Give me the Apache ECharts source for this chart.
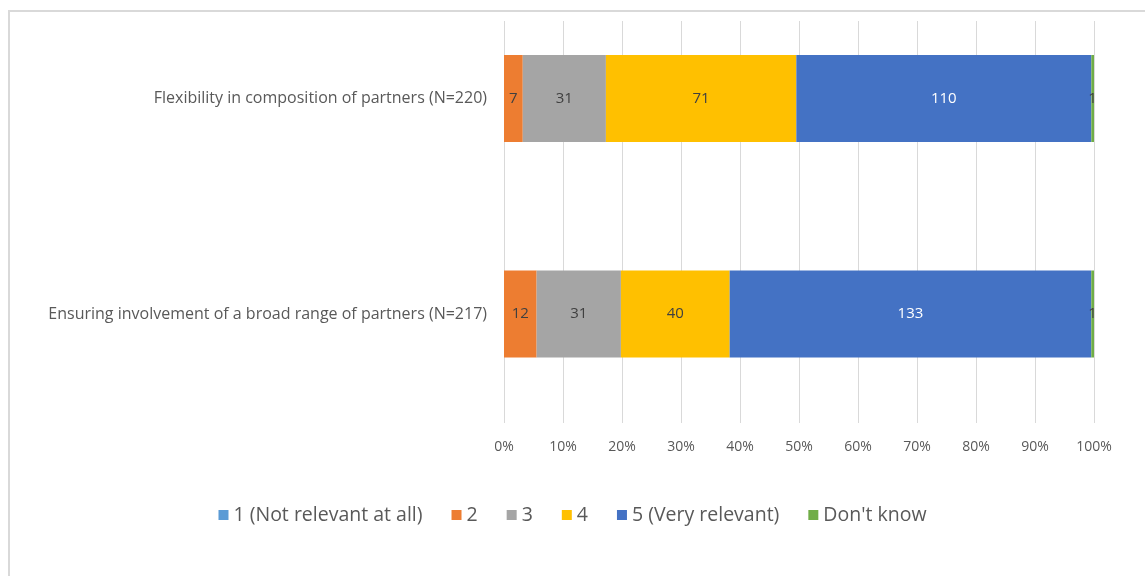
<!DOCTYPE html>
<html>
<head>
<meta charset="utf-8">
<script src="https://cdn.jsdelivr.net/npm/echarts@6/dist/echarts.min.js"></script>
<style>
  html, body { margin: 0; padding: 0; background: #fff; }
  #chart { width: 1145px; height: 576px; }
</style>
</head>
<body>
<div id="chart"></div>
<script>
// categories, top to bottom
var categories = [
  'Flexibility in composition of partners (N=220)',
  'Ensuring involvement of a broad range of partners (N=217)'
];
var seriesNames = ['1 (Not relevant at all)', '2', '3', '4', '5 (Very relevant)', "Don't know"];
// counts per answer, same order as categories
var notRelevant = [0, 0];
var two = [7, 12];
var three = [31, 31];
var four = [71, 40];
var veryRelevant = [110, 133];
var dontKnow = [1, 1];
var xTicks = [0, 10, 20, 30, 40, 50, 60, 70, 80, 90, 100];

var colors = ['#5B9BD5', '#ED7D31', '#A5A5A5', '#FFC000', '#4472C4', '#70AD47'];
var counts = [notRelevant, two, three, four, veryRelevant, dontKnow];

// 100% stacked: turn counts into shares of each row
var totals = categories.map(function (c, i) {
  var s = 0;
  counts.forEach(function (arr) { s += arr[i]; });
  return s;
});

var font = 'Open Sans';

var series = counts.map(function (arr, k) {
  return {
    name: seriesNames[k],
    type: 'bar',
    stack: 'all',
    xAxisIndex: 0,
    yAxisIndex: 0,
    barWidth: 87,
    itemStyle: { color: colors[k] },
    label: {
      show: true,
      position: 'inside',
      fontFamily: font,
      fontSize: 15,
      color: k === 4 ? '#ffffff' : '#404040',
      formatter: function (p) {
        var v = arr[p.dataIndex];
        return v === 0 ? '' : String(v);
      }
    },
    emphasis: { disabled: true },
    data: arr.map(function (v, i) { return v / totals[i] * 100; })
  };
});

var chart = echarts.init(document.getElementById('chart'));
chart.setOption({
  animation: false,
  textStyle: { fontFamily: font },
  graphic: [{
    type: 'rect',
    shape: { x: 9, y: 11, width: 1200, height: 700 },
    style: { fill: 'none', stroke: '#d9d9d9', lineWidth: 2 },
    z: -10
  }],
  legend: {
    data: seriesNames,
    left: 'center',
    top: 500,
    itemWidth: 10,
    itemHeight: 10,
    itemGap: 29,
    icon: 'rect',
    textStyle: { fontFamily: font, fontSize: 19.5, color: '#595959' }
  },
  grid: [
    // bars: category ticks sit on the grid edges
    { left: 504, right: 51, top: 98.5, height: 215.5 },
    // gridlines + percent axis
    { left: 504, right: 51, top: 21, bottom: 153 }
  ],
  xAxis: [
    {
      gridIndex: 0, type: 'value', min: 0, max: 100,
      show: false
    },
    {
      gridIndex: 1, type: 'value', min: 0, max: 100, interval: 10,
      axisLine: { show: false },
      axisTick: { show: false },
      splitLine: { show: true, lineStyle: { color: '#d9d9d9', width: 1 } },
      axisLabel: {
        margin: 17,
        fontFamily: font, fontSize: 14, color: '#595959',
        formatter: function (v) { return xTicks.indexOf(v) >= 0 ? v + '%' : ''; }
      }
    }
  ],
  yAxis: [
    {
      gridIndex: 0, type: 'category', data: categories, inverse: true,
      boundaryGap: false,
      axisLine: { show: false },
      axisTick: { show: false },
      splitLine: { show: false },
      axisLabel: { margin: 17, fontFamily: font, fontSize: 16, color: '#595959' }
    },
    {
      gridIndex: 1, type: 'value', show: false
    }
  ],
  series: series
});
</script>
</body>
</html>
